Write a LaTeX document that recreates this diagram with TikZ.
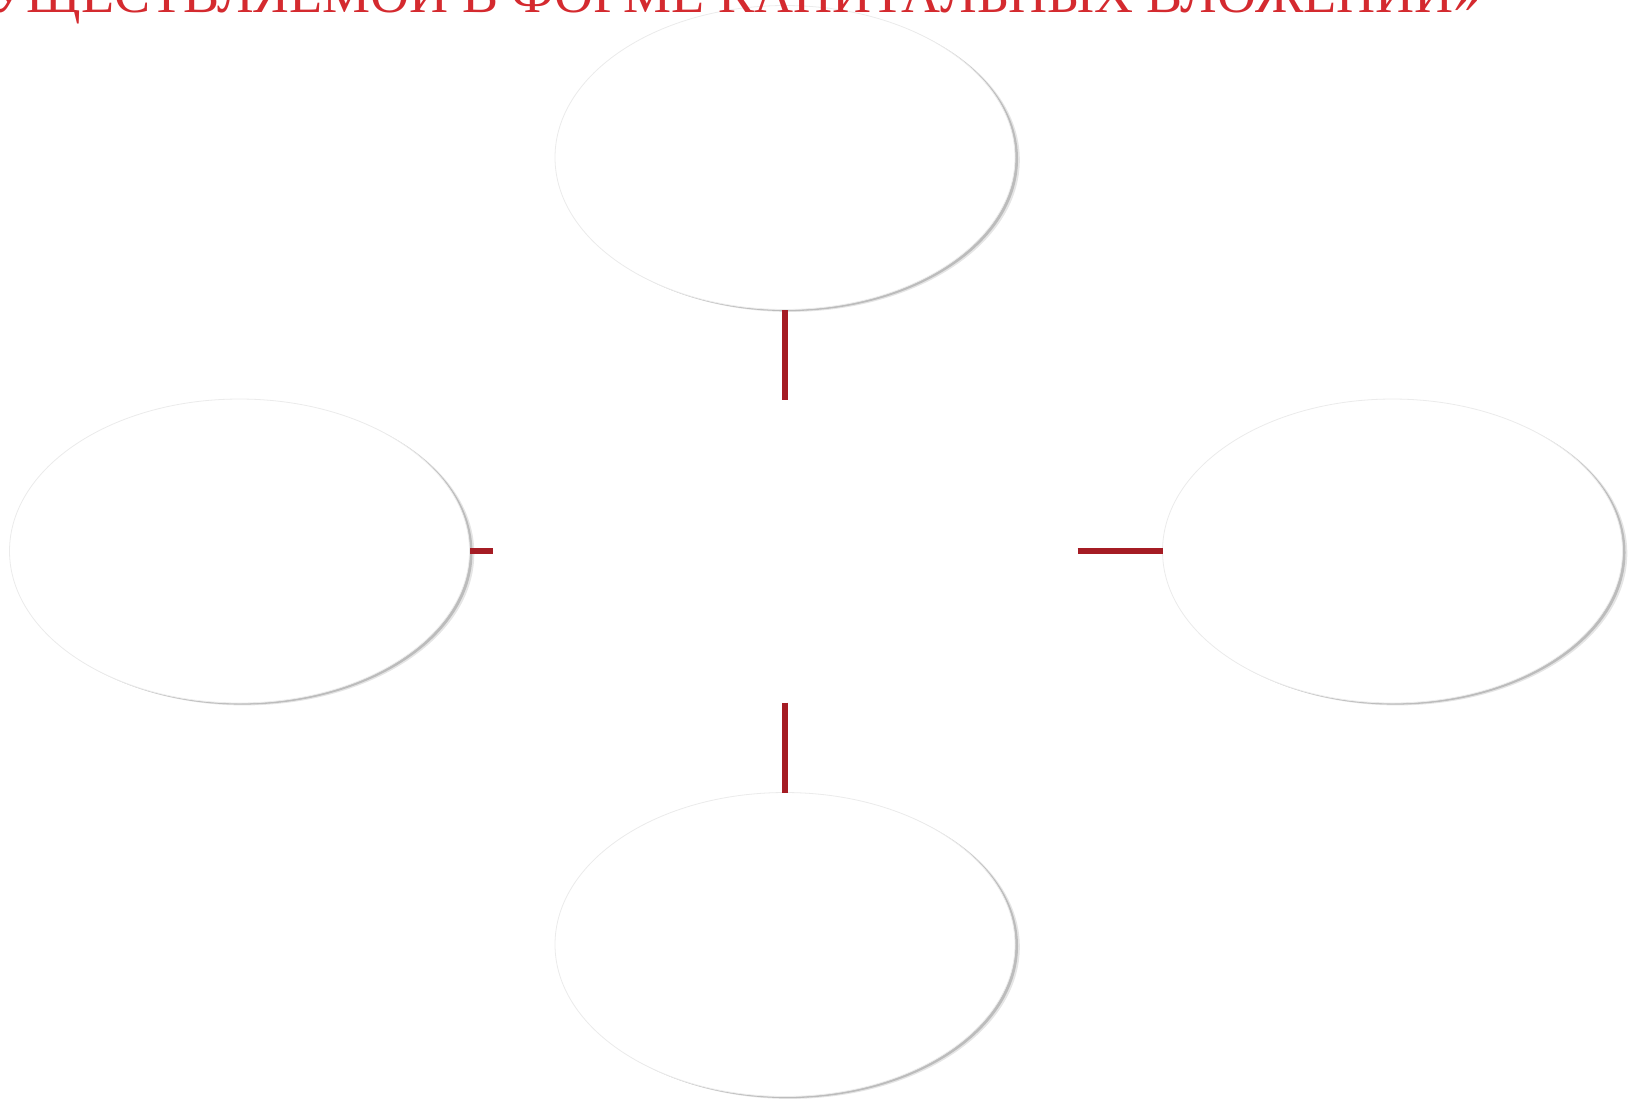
\documentclass[tikz,border=0pt]{standalone}
\usepackage{fontspec}
\setmainfont{Liberation Serif}
\usepackage{xcolor}
\usetikzlibrary{shapes.geometric, positioning, shadows}
\definecolor{titlecolor}{HTML}{D42A2F}
\definecolor{linkcolor}{HTML}{A51C24}

\begin{document}
\begin{tikzpicture}[
  x=0.5pt, y=-0.5pt,
  bubble/.style={ellipse, draw=black!8, line width=0.4pt, fill=white,
                 minimum width=230pt, minimum height=152pt, outer sep=0pt,
                 drop shadow={shadow xshift=2.4pt, shadow yshift=-1.2pt,
                              opacity=0.10, fill=black},
                 drop shadow={shadow xshift=1.5pt, shadow yshift=-0.8pt,
                              opacity=0.18, fill=black}},
  link/.style={line width=3pt, color=linkcolor},
]
\useasboundingbox (0,0) rectangle (1639,1100);

%% Centre (empty)
\node[minimum width=292.5pt, minimum height=151.5pt, inner sep=0pt,
      outer sep=0pt] (core) at (785,551) {};

%% Ellipses
\node[bubble, above=45pt of core]   (upper) {};
\node[bubble, left=11.5pt of core]  (west)  {};
\node[bubble, right=42.5pt of core] (east)  {};
\node[bubble, below=45pt of core]   (lower) {};

%% Links
\draw[link] (core) -- (upper);
\draw[link] (core) -- (west);
\draw[link] (core) -- (east);
\draw[link] (core) -- (lower);

%% Title
\node[anchor=base east, text=titlecolor, font=\fontsize{27}{32}\selectfont,
      inner sep=0pt] (title) at (1481,12)
      {УЩЕСТВЛЯЕМОЙ В ФОРМЕ КАПИТАЛЬНЫХ ВЛОЖЕНИЙ»};

\end{tikzpicture}
\end{document}
